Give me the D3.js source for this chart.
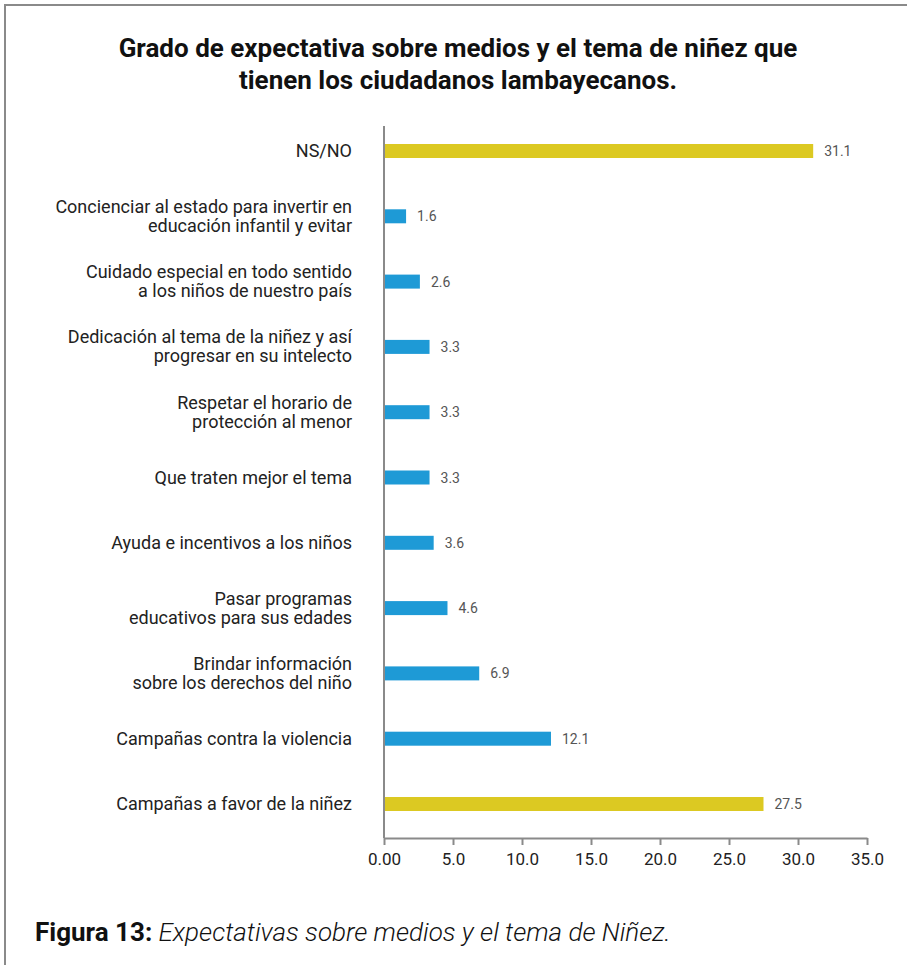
<!DOCTYPE html>
<html><head><meta charset="utf-8">
<script src="https://cdn.jsdelivr.net/npm/d3@7"></script>
<style>
html,body{margin:0;padding:0;background:#fff;}
svg{display:block;font-family:Roboto,"DejaVu Sans",sans-serif;}
</style></head>
<body><svg id="c" width="907" height="965"></svg>
<script>
const titleLines = ["Grado de expectativa sobre medios y el tema de niñez que", "tienen los ciudadanos lambayecanos."];
const categories = [
  "NS/NO",
  "Concienciar al estado para invertir en|educación infantil y evitar",
  "Cuidado especial en todo sentido|a los niños de nuestro país",
  "Dedicación al tema de la niñez y así|progresar en su intelecto",
  "Respetar el horario de|protección al menor",
  "Que traten mejor el tema",
  "Ayuda e incentivos a los niños",
  "Pasar programas|educativos para sus edades",
  "Brindar información|sobre los derechos del niño",
  "Campañas contra la violencia",
  "Campañas a favor de la niñez"
];
const values = [31.1, 1.6, 2.6, 3.3, 3.3, 3.3, 3.6, 4.6, 6.9, 12.1, 27.5];
const highlighted = ["NS/NO", "Campañas a favor de la niñez"];
const tickValues = [0, 5, 10, 15, 20, 25, 30, 35];
const tickLabels = ["0.00", "5.0", "10.0", "15.0", "20.0", "25.0", "30.0", "35.0"];
const captionBold = "Figura 13:";
const captionItalic = " Expectativas sobre medios y el tema de Niñez.";

const svg = d3.select("#c");
// frame
svg.append("path").attr("d","M5,965 V5 H907").attr("fill","none").attr("stroke","#8a8a8a").attr("stroke-width",2);

// title
svg.append("text").attr("x",458).attr("y",57).attr("text-anchor","middle")
  .attr("font-size",26).attr("font-weight",700).attr("fill","#111")
  .selectAll("tspan").data(titleLines).join("tspan")
  .attr("x",458).attr("dy",(d,i)=>i===0?0:32).text(d=>d);

const x = d3.scaleLinear().domain([0,35]).range([384,867]);
const y = d3.scalePoint().domain(categories).range([151,804]);
const bw = 14;
const g = svg.append("g");
g.selectAll("rect").data(values).join("rect")
  .attr("x",x(0)).attr("y",(d,i)=>y(categories[i])-bw/2)
  .attr("width",d=>x(d)-x(0)).attr("height",bw)
  .attr("fill",(d,i)=>highlighted.includes(categories[i])?"#dcc922":"#1e9ad6");

g.selectAll("text.val").data(values).join("text").attr("class","val")
  .attr("x",d=>x(d)+11).attr("y",(d,i)=>y(categories[i])+5)
  .attr("font-size",14).attr("fill","#555").text(d=>d.toFixed(1));

// category labels
categories.forEach((c,i)=>{
  const lines = c.split("|");
  const cy = y(c);
  const t = svg.append("text").attr("text-anchor","end").attr("font-size",18).attr("fill","#222");
  lines.forEach((l,j)=>{
    t.append("tspan").attr("x",352).attr("y",cy+6+(j-(lines.length-1)/2)*19).text(l);
  });
});

// axes
svg.append("line").attr("x1",x(0)).attr("x2",x(0)).attr("y1",126).attr("y2",838).attr("stroke","#8a8a8a").attr("stroke-width",2);
const xa = d3.axisBottom(x).tickValues(tickValues).tickFormat((d,i)=>tickLabels[i]).tickSize(7).tickSizeOuter(0);
const ax = svg.append("g").attr("transform","translate(0,838)").call(xa);
ax.select(".domain").attr("stroke","#8a8a8a").attr("stroke-width",2);
ax.selectAll(".tick line").attr("stroke","#8a8a8a").attr("stroke-width",2);
ax.selectAll(".tick text").attr("font-size",17).attr("fill","#222").attr("dy","1.0em").attr("font-family","Roboto, sans-serif");

// caption
const cap = svg.append("text").attr("x",35).attr("y",941).attr("font-size",26).attr("fill","#111");
cap.append("tspan").attr("font-weight",700).text(captionBold);
cap.append("tspan").attr("font-style","italic").attr("font-weight",300).text(captionItalic);
</script></body></html>
